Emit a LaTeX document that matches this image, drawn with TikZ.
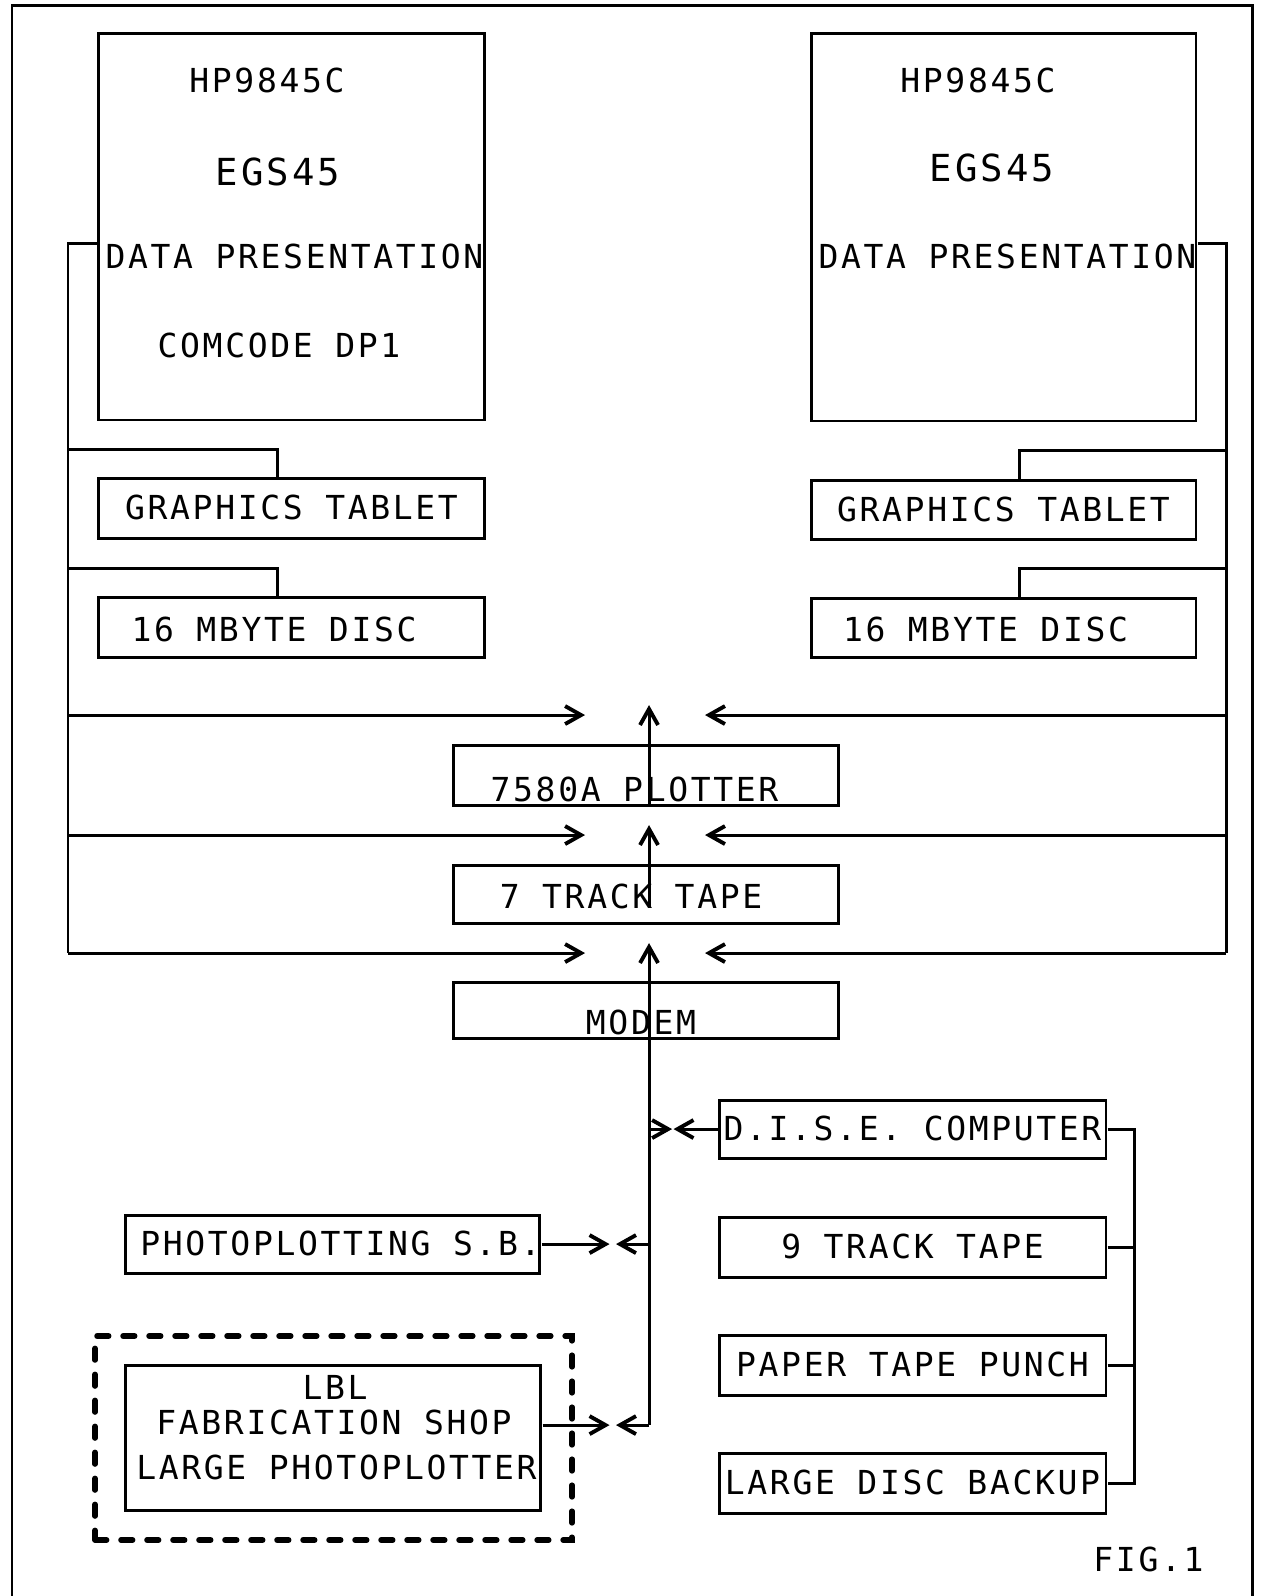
\documentclass[tikz,border=0pt]{standalone}
\usepackage{fontspec}
\usepackage{tikz}
\usetikzlibrary{arrows.meta}
\newfontfamily\plotfont[LetterSpace=8.0]{DejaVu Sans Mono}

\begin{document}
\begin{tikzpicture}[scale=0.1, line width=0.85pt, >={Straight Barb[length=1.6mm,width=1.8mm,line width=1.1pt]}]
	\tikzstyle{every node}+=[inner sep=0pt]
	\tikzstyle{unit}=[draw=black, line width=0.85pt, minimum width=3.87cm, minimum height=0.6cm]
	\tikzstyle{sitebox}=[draw=black, line width=1.6pt, line cap=round, dash pattern=on 3.3pt off 4.1pt]
	\tikzstyle{plot}=[font=\plotfont\fontsize{9.4}{11}\selectfont, text height=6.8pt, text depth=0pt]
	\tikzstyle{plotbig}=[font=\plotfont\fontsize{10.6}{12}\selectfont, text height=7.7pt, text depth=0pt]
	\useasboundingbox (0,0) rectangle (126,-159.6);
	\draw [black] (1.2,-159.6) -- (1.2,-0.5) -- (125.2,-0.5) -- (125.2,-159.6);
	\draw (29.15,-22.65) node [unit, minimum height=3.87cm] (hpL) {};
	\draw (100.35,-22.7) node [unit, minimum width=3.85cm, minimum height=3.88cm] (hpR) {};
	\draw (26.7,-8.1) node [plot] (hpLa) {HP9845C};
	\draw (27.8,-17.2) node [plotbig] (hpLb) {EGS45};
	\draw (29.45,-25.7) node [plot] (hpLc) {DATA PRESENTATION};
	\draw (27.9,-34.6) node [plot] (hpLd) {COMCODE DP1};
	\draw (97.8,-8.1) node [plot] (hpRa) {HP9845C};
	\draw (99.2,-16.8) node [plotbig] (hpRb) {EGS45};
	\draw (100.75,-25.7) node [plot] (hpRc) {DATA PRESENTATION};
	\draw (29.15,-50.8) node [unit, plot] (tabL) {GRAPHICS TABLET};
	\draw (29.15,-62.7) node [unit] (discL) {};
	\draw (27.4,-63.0) node [plot] (discLa) {16 MBYTE DISC};
	\draw (100.35,-50.95) node [unit, plot, minimum width=3.85cm, minimum height=0.59cm] (tabR) {GRAPHICS TABLET};
	\draw (100.35,-62.75) node [unit, minimum width=3.85cm, minimum height=0.59cm] (discR) {};
	\draw (98.55,-63.0) node [plot] (discRa) {16 MBYTE DISC};
	\draw (64.6,-77.5) node [unit, minimum width=3.86cm] (plotter) {};
	\draw (63.45,-79.0) node [plot] (plottera) {7580A PLOTTER};
	\draw (64.6,-89.4) node [unit, minimum width=3.86cm, minimum height=0.58cm] (tape7) {};
	\draw (63.1,-89.7) node [plot] (tape7a) {7 TRACK TAPE};
	\draw (64.6,-101.0) node [unit, minimum width=3.86cm, minimum height=0.56cm] (modem) {};
	\draw (64.1,-102.3) node [plot] (modema) {MODEM};
	\draw (91.25,-112.9) node [unit, plot, minimum height=0.58cm] (dise) {D.I.S.E. COMPUTER};
	\draw (91.25,-124.7) node [unit, plot] (tape9) {9 TRACK TAPE};
	\draw (91.25,-136.5) node [unit, plot] (punch) {PAPER TAPE PUNCH};
	\draw (91.25,-148.3) node [unit, plot] (backup) {LARGE DISC BACKUP};
	\draw (33.25,-124.4) node [unit, minimum width=4.15cm, minimum height=0.58cm] (photo) {};
	\draw (34.05,-124.4) node [plot] (photoa) {PHOTOPLOTTING S.B.};
	\draw (33.35,-143.8) node [sitebox, minimum width=4.77cm, minimum height=2.04cm] (site) {};
	\draw (33.3,-143.75) node [unit, minimum width=4.16cm, minimum height=1.45cm] (fab) {};
	\draw (33.5,-138.8) node [plot] (faba) {LBL};
	\draw (33.4,-142.3) node [plot] (fabb) {FABRICATION SHOP};
	\draw (33.65,-146.8) node [plot] (fabc) {LARGE PHOTOPLOTTER};
	\draw (114.85,-156.0) node [plot] (fig) {FIG.1};
	\coordinate (busLt) at (6.8,-24.3);
	\coordinate (busLb) at (6.8,-95.3);
	\coordinate (busRt) at (122.6,-24.3);
	\coordinate (busRb) at (122.6,-95.3);
	\coordinate (tapL) at (6.8,-44.9);
	\coordinate (dskL) at (6.8,-56.8);
	\coordinate (tapR) at (122.6,-45.0);
	\coordinate (dskR) at (122.6,-56.8);
	\coordinate (hubA) at (64.9,-71.5);
	\coordinate (hubB) at (64.9,-83.5);
	\coordinate (hubC) at (64.9,-95.3);
	\coordinate (tapeK) at (64.9,-90.7);
	\coordinate (jD) at (64.9,-112.9);
	\coordinate (jP) at (64.9,-124.4);
	\coordinate (jF) at (64.9,-142.5);
	\coordinate (bkt) at (113.4,-112.9);
	\draw [black] (hpL.west |- busLt) -- (busLt) -- (busLb);
	\draw [black] (hpR.east |- busRt) -- (busRt) -- (busRb);
	\draw [black] (tapL) -| ([xshift=-14.5mm]tabL.north);
	\draw [black] (dskL) -| ([xshift=-14.5mm]discL.north);
	\draw [black] (tapR) -| ([xshift=15.5mm]tabR.north);
	\draw [black] (dskR) -| ([xshift=15.5mm]discR.north);
	\draw [black, ->] (busLt |- hubA) -- ([xshift=-64mm]hubA);
	\draw [black, ->] (busRt |- hubA) -- ([xshift=56mm]hubA);
	\draw [black, ->] (plotter.south -| hubA) -- ([yshift=10mm]hubA);
	\draw [black, ->] (busLt |- hubB) -- ([xshift=-64mm]hubB);
	\draw [black, ->] (busRt |- hubB) -- ([xshift=56mm]hubB);
	\draw [black, ->] (tapeK) -- ([yshift=10mm]hubB);
	\draw [black, ->] (busLb) -- ([xshift=-64mm]hubC);
	\draw [black, ->] (busRb) -- ([xshift=56mm]hubC);
	\draw [black, ->] (jF) -- ([yshift=10mm]hubC);
	\draw [black, ->] (jD) -- ++(2.3,0);
	\draw [black, ->] (dise.west) -- ++(-4.4,0);
	\draw [black, ->] (photo.east) -- ++(6.8,0);
	\draw [black, ->] (jP) -- ++(-3.3,0);
	\draw [black, ->] ([yshift=12.5mm]fab.east) -- ++(6.7,0);
	\draw [black, ->] (jF) -- ++(-3.3,0);
	\draw [black] (dise.east) -- (bkt) |- (backup.east);
	\draw [black] (tape9.east) -- (tape9.east -| bkt);
	\draw [black] (punch.east) -- (punch.east -| bkt);
\end{tikzpicture}
\end{document}
